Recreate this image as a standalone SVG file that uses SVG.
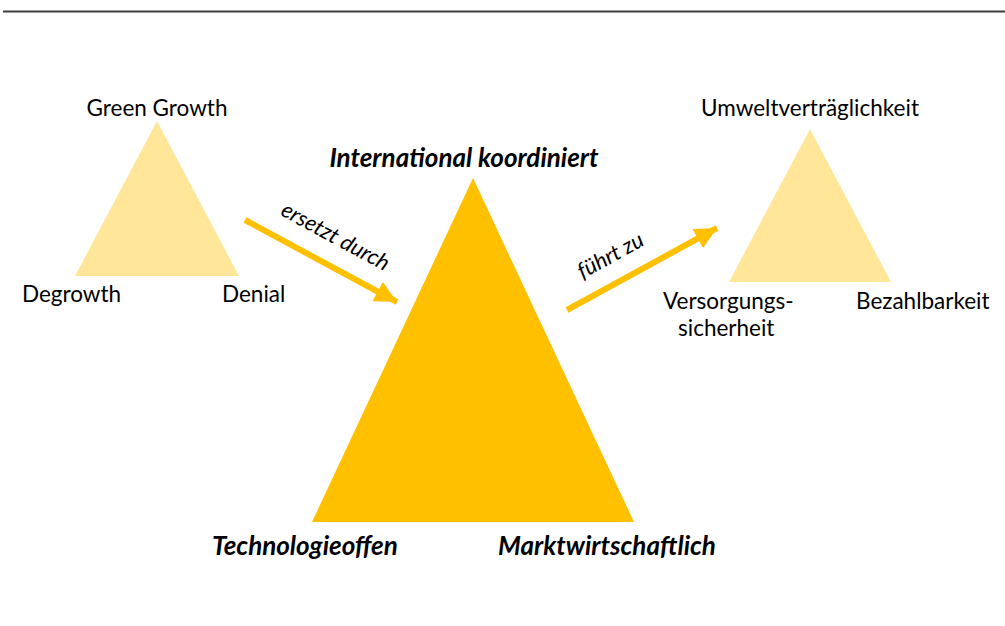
<svg xmlns="http://www.w3.org/2000/svg" width="1005" height="626" viewBox="0 0 1005 626">
<style>
.lbl{font-family:Lato,"Liberation Sans",sans-serif;font-size:22.5px;fill:#000}
.big{font-family:Lato,"Liberation Sans",sans-serif;font-size:26px;font-weight:bold;font-style:italic;fill:#000}
.arr{font-family:Lato,"Liberation Sans",sans-serif;font-size:22px;font-style:italic;fill:#000}
.light{fill:#FFE699}
.main{fill:#FFC000}
.conn{stroke:#FFC000;stroke-width:6;fill:none}
</style>
<defs>
<marker id="ah" markerUnits="userSpaceOnUse" markerWidth="24" markerHeight="22" refX="22" refY="11" orient="auto">
<path d="M0,0 L22,11 L0,22 Z" fill="#FFC000"/>
</marker>
</defs>
<rect width="1005" height="626" fill="#fff"/>
<line x1="3" y1="11.5" x2="1005" y2="11.5" stroke="#3c3c3c" stroke-width="2"/>
<g id="left-triangle">
<polygon class="light" points="157,121 239,276 75,276"/>
<text class="lbl" x="157" y="116" text-anchor="middle">Green Growth</text>
<text class="lbl" x="22" y="302">Degrowth</text>
<text class="lbl" x="222" y="302">Denial</text>
</g>
<g id="main-triangle">
<polygon class="main" points="473,178 634,522 312,522"/>
<text class="big" x="464" y="167" text-anchor="middle">International koordiniert</text>
<text class="big" x="212" y="555">Technologieoffen</text>
<text class="big" x="498" y="555">Marktwirtschaftlich</text>
</g>
<g id="right-triangle">
<polygon class="light" points="810,129 891,282 729,282"/>
<text class="lbl" x="810" y="116" text-anchor="middle">Umweltverträglichkeit</text>
<text class="lbl" x="663" y="309">Versorgungs-</text>
<text class="lbl" x="678" y="336">sicherheit</text>
<text class="lbl" x="856" y="309">Bezahlbarkeit</text>
</g>
<g id="connectors">
<line class="conn" x1="245" y1="220" x2="397" y2="302" marker-end="url(#ah)"/>
<text class="arr" transform="translate(332,243) rotate(28.4)" text-anchor="middle">ersetzt durch</text>
<line class="conn" x1="567" y1="310" x2="717" y2="228" marker-end="url(#ah)"/>
<text class="arr" transform="translate(614,262) rotate(-28.7)" text-anchor="middle">führt zu</text>
</g>
</svg>
